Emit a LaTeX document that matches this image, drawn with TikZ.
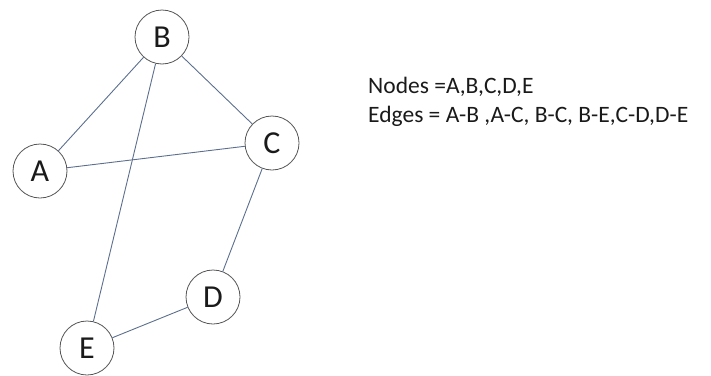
\documentclass[tikz,border=0pt]{standalone}
\usepackage{fontspec}
\setmainfont{Carlito}
\usepackage{tikz}
\usetikzlibrary{positioning,calc}
\definecolor{ink}{HTML}{1A1A1A}
\definecolor{ring}{HTML}{555555}
\definecolor{edge}{HTML}{5C6F8E}
\tikzset{
  vert/.style={circle,draw=ring,thick,fill=white,minimum size=54pt,inner sep=0pt,
    font=\fontsize{32}{36}\selectfont,text=ink},
  link/.style={draw=edge,line width=0.9pt},
  info/.style={anchor=base west,font=\fontsize{23.5}{28}\selectfont,text=ink,inner sep=0pt}
}

\begin{document}
\begin{tikzpicture}[x=1pt,y=-1pt]
    \useasboundingbox (0,0) rectangle (711,375);
    \node[vert] (B) at (162,37) {B};
    \node[vert] (A) at (40,171) {A};
    \node[vert] (C) at (272,143) {C};
    \node[vert] (D) at (213,297) {D};
    \node[vert] (E) at (87,348) {E};
    \draw[link] (A) -- (B);
    \draw[link] (A) -- (C);
    \draw[link] (B) -- (C);
    \draw[link] (B) -- (E);
    \draw[link] (C) -- (D);
    \draw[link] (D) -- (E);
    \node[info] (nodes) at (368,93) {Nodes =A,B,C,D,E};
    \node[info] (edges) at (368,122) {Edges = A-B ,A-C, B-C, B-E,C-D,D-E};
  \end{tikzpicture}
\end{document}
